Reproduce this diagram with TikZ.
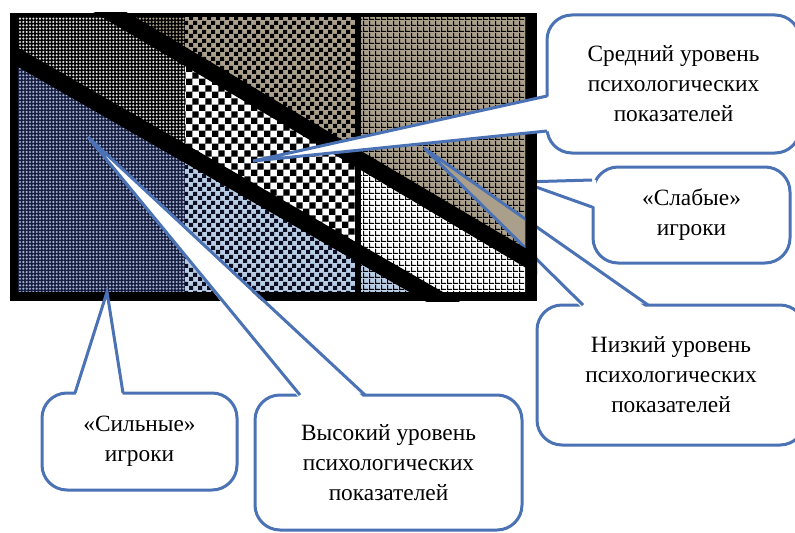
\documentclass[tikz,border=0pt]{standalone}
\usepackage{fontspec}
\setmainfont{Liberation Serif}
\usetikzlibrary{patterns}

\definecolor{callblue}{RGB}{74,114,180}
\definecolor{greytan}{RGB}{170,159,138}
\definecolor{paleblue}{RGB}{184,204,228}
\definecolor{navyback}{RGB}{22,28,62}
\definecolor{dotgray}{RGB}{225,225,225}
\definecolor{dotblue}{RGB}{165,180,212}
\definecolor{inkblue}{RGB}{14,14,34}

\pgfdeclarepatternformonly{fine dots}{\pgfqpoint{-1pt}{-1pt}}{\pgfqpoint{1pt}{1pt}}{\pgfqpoint{2pt}{2pt}}%
  {\pgfpathcircle{\pgfpointorigin}{0.7pt}\pgfusepath{fill}}
\pgfdeclarepatternformonly{big checker}{\pgfpointorigin}{\pgfqpoint{8pt}{8pt}}{\pgfqpoint{8pt}{8pt}}%
  {\pgfpathrectangle{\pgfpointorigin}{\pgfqpoint{4pt}{4pt}}%
   \pgfpathrectangle{\pgfqpoint{4pt}{4pt}}{\pgfqpoint{4pt}{4pt}}\pgfusepath{fill}}
\pgfdeclarepatternformonly{small checker}{\pgfpointorigin}{\pgfqpoint{5.4pt}{5.4pt}}{\pgfqpoint{5.4pt}{5.4pt}}%
  {\pgfpathrectangle{\pgfpointorigin}{\pgfqpoint{2.7pt}{2.7pt}}%
   \pgfpathrectangle{\pgfqpoint{2.7pt}{2.7pt}}{\pgfqpoint{2.7pt}{2.7pt}}\pgfusepath{fill}}
\pgfdeclarepatternformonly{fine grid}{\pgfpointorigin}{\pgfqpoint{3.3pt}{3.3pt}}{\pgfqpoint{3.3pt}{3.3pt}}%
  {\pgfpathrectangle{\pgfpointorigin}{\pgfqpoint{3.3pt}{0.8pt}}%
   \pgfpathrectangle{\pgfpointorigin}{\pgfqpoint{0.8pt}{3.3pt}}\pgfusepath{fill}}

\begin{document}
\begin{tikzpicture}[x=0.6pt,y=-0.6pt,
  callout/.style={draw=callblue,line width=1.8pt,fill=white,rounded corners=15pt,
    align=center,inner sep=0pt,font=\fontsize{14}{18}\selectfont},
  pointer/.style={draw=callblue,line width=1.8pt},
  band/.style={black,line width=10pt},
  zoneA/.style={insert path={(0,-53) -- (600,302) -- (600,-60) -- (0,-60) -- cycle}},
  zoneC/.style={insert path={(0,47) -- (600,392) -- (600,420) -- (0,420) -- cycle}}]

  \useasboundingbox (0,0) rectangle (795,532);
  \clip (0,0) rectangle (795,532);

  \node[callout,minimum width=160.8pt,minimum height=84pt] (low) at (671,375)
    {Низкий уровень\\психологических\\показателей};
  \coordinate (lowtip) at (424,148);
  \coordinate (low1) at (583,305);
  \coordinate (low2) at (648,305);
  \fill[white] (583,309) -- (lowtip) -- (648,309) -- cycle;
  \draw[pointer] (low1) -- (lowtip) -- (low2);

  \node[callout,minimum width=118.2pt,minimum height=57.6pt] (weak) at (691.5,215)
    {«Слабые»\\игроки};
  \coordinate (weaktip) at (522,182);
  \coordinate (weak1) at (592,180);
  \coordinate (weak2) at (592,207);
  \fill[white] (596,180) -- (weaktip) -- (596,207) -- cycle;
  \draw[pointer] (weak1) -- (weaktip) -- (weak2);

  \fill[black] (10,13) rectangle (537,301);
  \begin{scope}
    \clip (18,18) rectangle (185,291);
    \fill[black] (0,0) rectangle (600,420);
    \fill[pattern=fine dots,pattern color=dotgray] (0,0) rectangle (600,420);
    \fill[black,zoneA];
    \fill[pattern=fine dots,pattern color=greytan,zoneA];
    \fill[navyback,zoneC];
    \fill[pattern=fine dots,pattern color=dotblue,zoneC];
  \end{scope}
  \begin{scope}
    \clip (185,18) rectangle (358,291);
    \fill[white] (0,0) rectangle (600,420);
    \fill[pattern=big checker,pattern color=black] (0,0) rectangle (600,420);
    \fill[greytan,zoneA];
    \fill[pattern=small checker,pattern color=black,zoneA];
    \fill[paleblue,zoneC];
    \fill[pattern=small checker,pattern color=inkblue,zoneC];
  \end{scope}
  \begin{scope}
    \clip (358,18) rectangle (525,291);
    \fill[white] (0,0) rectangle (600,420);
    \fill[pattern=fine grid,pattern color=black] (0,0) rectangle (600,420);
    \fill[greytan,zoneA];
    \fill[pattern=fine grid,pattern color=black,zoneA];
    \fill[paleblue,zoneC];
    \fill[pattern=fine grid,pattern color=black,zoneC];
  \end{scope}
  \begin{scope}
    \clip (18,18) rectangle (525,291);
    \fill[greytan] (lowtip) -- (low1) -- (low2) -- cycle;
    \draw[pointer] (low1) -- (lowtip) -- (low2);
  \end{scope}
  \begin{scope}
    \clip (10,13) rectangle (537,301);
    \draw[band] (0,-53) -- (600,302);
    \draw[band] (0,47) -- (600,392);
    \draw[black,line width=3.6pt] (358,13) -- (358,301);
  \end{scope}

  \node[callout,minimum width=151.8pt,minimum height=82.8pt] (mid) at (673.5,84)
    {Средний уровень\\психологических\\показателей};
  \coordinate (midtip) at (253,161);
  \coordinate (mid1) at (547,96);
  \coordinate (mid2) at (547,131);
  \fill[white] (551,96) -- (midtip) -- (551,131) -- cycle;
  \draw[pointer] (mid1) -- (midtip) -- (mid2);

  \node[callout,minimum width=160.2pt,minimum height=81pt] (high) at (388.5,462.5)
    {Высокий уровень\\психологических\\показателей};
  \coordinate (hightip) at (88,137);
  \coordinate (high1) at (300,395);
  \coordinate (high2) at (365,395);
  \fill[white] (300,399) -- (hightip) -- (365,399) -- cycle;
  \draw[pointer] (high1) -- (hightip) -- (high2);

  \node[callout,minimum width=117pt,minimum height=58.2pt] (strong) at (139.5,441.5)
    {«Сильные»\\игроки};
  \coordinate (strongtip) at (107,292);
  \coordinate (strong1) at (75,393);
  \coordinate (strong2) at (123,393);
  \fill[white] (75,397) -- (strongtip) -- (123,397) -- cycle;
  \draw[pointer] (strong1) -- (strongtip) -- (strong2);
\end{tikzpicture}
\end{document}
